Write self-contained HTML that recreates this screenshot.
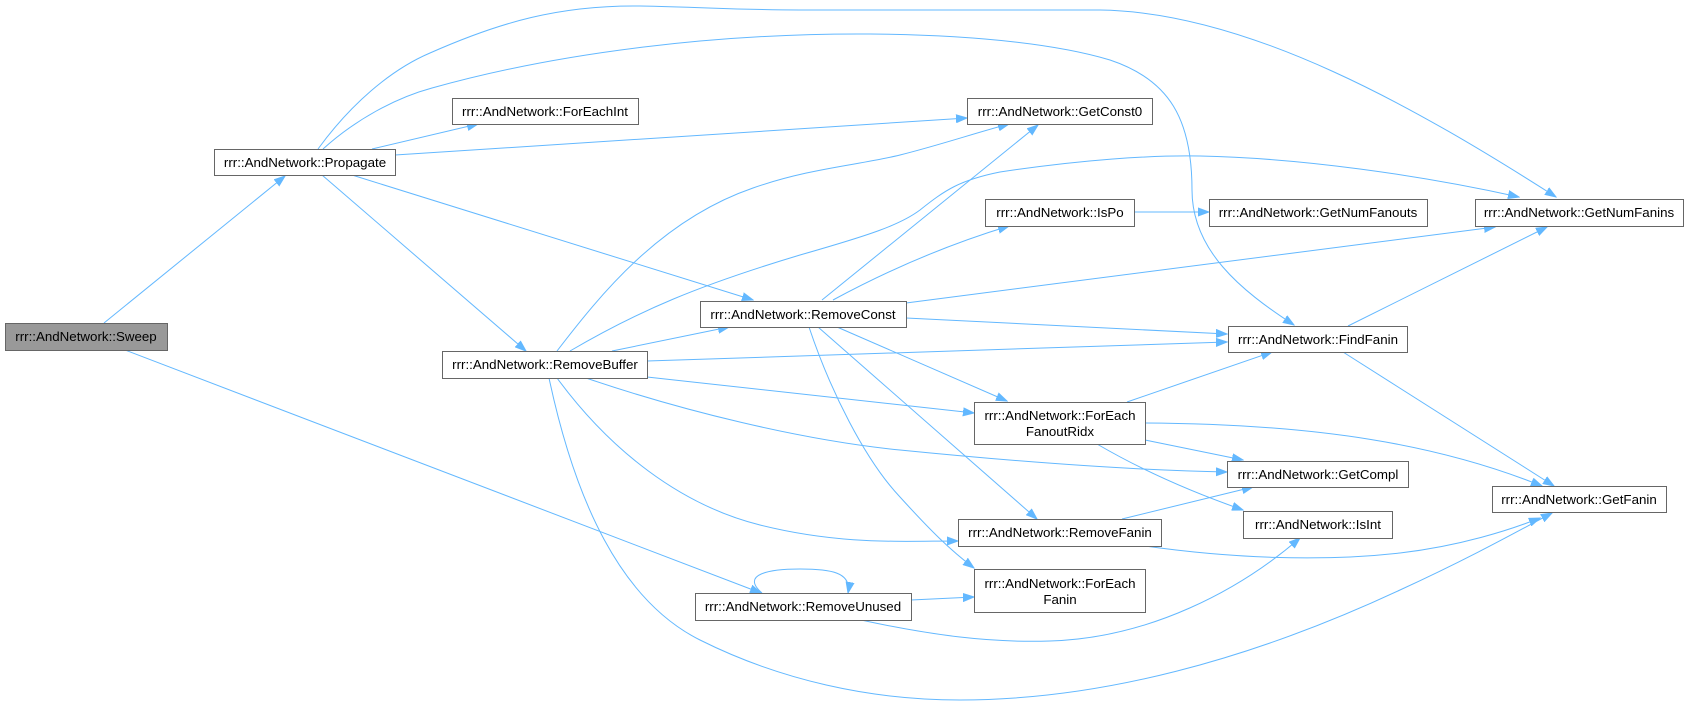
<!DOCTYPE html>
<html><head><meta charset="utf-8"><style>
html,body{margin:0;padding:0;background:#fff;}
svg{display:block;}
text{font-family:"Liberation Sans",Arial,sans-serif;font-size:13.33px;fill:#000;}
</style></head><body>
<svg width="1689" height="706" viewBox="0 0 1689 706" xmlns="http://www.w3.org/2000/svg">
<defs>
<marker id="a" markerWidth="12" markerHeight="9" refX="11" refY="4.5" orient="auto" markerUnits="userSpaceOnUse">
<path d="M0,0.5 L11,4.5 L0,8.5z" fill="#63b8ff" stroke="#63b8ff" stroke-width="1"/>
</marker>
</defs>
<g fill="none" stroke="#63b8ff" stroke-width="1" marker-end="url(#a)">
<!-- Sweep -->
<path d="M104,323 L285,176"/>
<path d="M125,350 L761,593"/>
<!-- Propagate -->
<path d="M318,149 C350,105 390,70 430,53 C500,22 560,5 640,6 C700,7 740,10 800,10 L1100,10 C1250,12 1420,110 1556,197"/>
<path d="M323,149 C355,120 395,98 432,88 C560,52 720,33 870,34 C980,35 1060,45 1110,60 C1170,80 1192,120 1192,190 C1192,250 1240,290 1294,325"/>
<path d="M372,149 L478,124"/>
<path d="M395,155 L967,118"/>
<path d="M352,175 L753,300"/>
<path d="M322,175 L526,351"/>
<!-- RemoveBuffer -->
<path d="M557,351 C600,295 660,220 753,188 C810,168 860,165 900,155 C940,145 975,133 1009,124"/>
<path d="M570,351 C640,310 700,285 800,255 C870,235 900,225 920,210 C945,190 960,180 1000,172 C1080,160 1150,155 1200,156 C1300,158 1420,175 1519,197"/>
<path d="M612,351 L729,327"/>
<path d="M647,361 L1227,342"/>
<path d="M647,377 L974,413"/>
<path d="M586,378 C680,410 800,440 900,450 C1000,460 1120,470 1227,472"/>
<path d="M557,378 C610,450 680,505 760,525 C840,545 900,541 958,541"/>
<path d="M549,378 C575,500 620,600 700,640 C780,680 870,700 960,700 C1100,700 1250,660 1400,590 C1470,558 1520,530 1552,513"/>
<!-- RemoveConst -->
<path d="M822,300 L1038,125"/>
<path d="M833,300 C870,280 930,250 1009,226"/>
<path d="M906,303 L1495,227"/>
<path d="M906,318 L1227,334"/>
<path d="M837,327 L1007,401"/>
<path d="M818,327 L1037,519"/>
<path d="M809,327 C830,390 865,460 900,497 C930,530 950,550 974,568"/>
<!-- IsPo -->
<path d="M1134,212 L1209,212"/>
<!-- FindFanin -->
<path d="M1348,326 L1547,227"/>
<path d="M1343,352 L1554,486"/>
<!-- ForEachFanoutRidx -->
<path d="M1127,402 L1272,352"/>
<path d="M1145,440 L1243,460"/>
<path d="M1097,444 C1150,475 1200,495 1243,510"/>
<path d="M1145,423 C1320,424 1440,445 1542,486"/>
<!-- RemoveFanin -->
<path d="M1122,519 L1253,487"/>
<path d="M1145,546 C1230,558 1320,562 1400,553 C1460,546 1510,530 1540,518"/>
<!-- RemoveUnused -->
<path d="M762,593 C740,574 770,569 800,569 C830,569 852,572 848,593"/>
<path d="M911,600 L974,597"/>
<path d="M861,620 C930,635 990,643 1050,641 C1150,638 1240,590 1300,538"/>
</g>
<g stroke="#666" stroke-width="1" fill="#fff">
<rect x="5.5" y="323.5" width="162" height="27" fill="#999"/>
<rect x="214.5" y="149.5" width="181" height="26"/>
<rect x="452.5" y="98.5" width="186" height="26"/>
<rect x="967.5" y="98.5" width="185" height="26"/>
<rect x="985.5" y="199.5" width="149" height="27"/>
<rect x="1209.5" y="199.5" width="218" height="27"/>
<rect x="1475.5" y="199.5" width="208" height="27"/>
<rect x="700.5" y="301.5" width="206" height="26"/>
<rect x="442.5" y="351.5" width="205" height="27"/>
<rect x="1228.5" y="326.5" width="179" height="26"/>
<rect x="974.5" y="402.5" width="171" height="42"/>
<rect x="1227.5" y="461.5" width="181" height="26"/>
<rect x="1492.5" y="486.5" width="174" height="26"/>
<rect x="1243.5" y="511.5" width="149" height="27"/>
<rect x="958.5" y="519.5" width="203" height="27"/>
<rect x="695.5" y="593.5" width="216" height="27"/>
<rect x="974.5" y="569.5" width="171" height="43"/>
</g>
<g text-anchor="middle">
<text x="86" y="341">rrr::AndNetwork::Sweep</text>
<text x="305" y="167">rrr::AndNetwork::Propagate</text>
<text x="545" y="116">rrr::AndNetwork::ForEachInt</text>
<text x="1060" y="116">rrr::AndNetwork::GetConst0</text>
<text x="1060" y="217">rrr::AndNetwork::IsPo</text>
<text x="1318" y="217">rrr::AndNetwork::GetNumFanouts</text>
<text x="1579" y="217">rrr::AndNetwork::GetNumFanins</text>
<text x="803" y="319">rrr::AndNetwork::RemoveConst</text>
<text x="545" y="369">rrr::AndNetwork::RemoveBuffer</text>
<text x="1318" y="344">rrr::AndNetwork::FindFanin</text>
<text x="1060" y="420">rrr::AndNetwork::ForEach</text>
<text x="1060" y="436">FanoutRidx</text>
<text x="1318" y="479">rrr::AndNetwork::GetCompl</text>
<text x="1579" y="504">rrr::AndNetwork::GetFanin</text>
<text x="1318" y="529">rrr::AndNetwork::IsInt</text>
<text x="1060" y="537">rrr::AndNetwork::RemoveFanin</text>
<text x="803" y="611">rrr::AndNetwork::RemoveUnused</text>
<text x="1060" y="588">rrr::AndNetwork::ForEach</text>
<text x="1060" y="604">Fanin</text>
</g>
</svg>
</body></html>
